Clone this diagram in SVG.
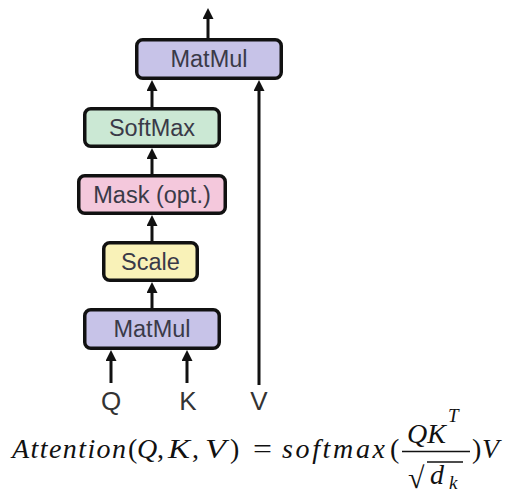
<svg xmlns="http://www.w3.org/2000/svg" width="507" height="494" viewBox="0 0 507 494">
<style>
.box{stroke:#111;stroke-width:3.5}
.lbl{font-family:"Liberation Sans",Arial,sans-serif;font-size:23.5px;fill:#3a3a48;text-anchor:middle}
.io{font-family:"Liberation Sans",Arial,sans-serif;font-size:26px;fill:#333;text-anchor:middle}
.conn line{stroke:#111;stroke-width:3;fill:none}
.m{font-family:"Liberation Serif","Times New Roman",serif;font-style:italic;font-size:28px;fill:#111}
.u{font-style:normal}
.s{font-size:19px}
</style>
<defs>
<marker id="ah" viewBox="0 0 11 11" refX="3" refY="5.5" markerWidth="11" markerHeight="11" markerUnits="userSpaceOnUse" orient="auto">
<path d="M0,0 L11,5.5 L0,11 z" fill="#111"/>
</marker>
</defs>
<rect width="507" height="494" fill="#fff"/>
<g class="conn">
<line x1="208" y1="38" x2="208" y2="16" marker-end="url(#ah)"/>
<line x1="152" y1="107" x2="152" y2="88" marker-end="url(#ah)"/>
<line x1="152" y1="174" x2="152" y2="156" marker-end="url(#ah)"/>
<line x1="152" y1="241" x2="152" y2="223" marker-end="url(#ah)"/>
<line x1="152" y1="308" x2="152" y2="290" marker-end="url(#ah)"/>
<line x1="111" y1="383" x2="111" y2="358" marker-end="url(#ah)"/>
<line x1="187" y1="383" x2="187" y2="358" marker-end="url(#ah)"/>
<line x1="259" y1="385" x2="259" y2="88" marker-end="url(#ah)"/>
</g>
<g id="matmul-top">
<rect class="box" x="136.75" y="39.75" width="144.5" height="38.5" rx="6" fill="#c7c3e8"/>
<text class="lbl" x="209" y="67">MatMul</text>
</g>
<g id="softmax">
<rect class="box" x="84.75" y="108.75" width="134.5" height="37.5" rx="6" fill="#cbe8d4"/>
<text class="lbl" x="152" y="135.5">SoftMax</text>
</g>
<g id="mask">
<rect class="box" x="78.75" y="175.75" width="146.5" height="37.5" rx="6" fill="#f4c8dc"/>
<text class="lbl" x="152" y="202.5">Mask (opt.)</text>
</g>
<g id="scale">
<rect class="box" x="103.75" y="242.75" width="93.5" height="37.5" rx="6" fill="#f9f2b8"/>
<text class="lbl" x="150.5" y="269.5">Scale</text>
</g>
<g id="matmul-bottom">
<rect class="box" x="84.75" y="309.75" width="134.5" height="38.5" rx="6" fill="#c7c3e8"/>
<text class="lbl" x="152" y="337">MatMul</text>
</g>
<g id="inputs">
<text class="io" x="111" y="410">Q</text>
<text class="io" x="188" y="410">K</text>
<text class="io" x="259" y="410">V</text>
</g>
<g id="formula">
<text class="m" x="12" y="458" textLength="114" lengthAdjust="spacing">Attention</text>
<text class="m u" x="128" y="458">(</text>
<text class="m" x="137" y="458">Q</text>
<text class="m u" x="157" y="458">,</text>
<text class="m" x="168" y="458" textLength="22" lengthAdjust="spacingAndGlyphs">K</text>
<text class="m u" x="192" y="458">,</text>
<text class="m" x="205" y="458" textLength="21" lengthAdjust="spacingAndGlyphs">V</text>
<text class="m u" x="230" y="458">)</text>
<text class="m u" x="253" y="458" textLength="19" lengthAdjust="spacingAndGlyphs">=</text>
<text class="m" x="282" y="458" textLength="103" lengthAdjust="spacing">softmax</text>
<text class="m u" x="390" y="458">(</text>
<line x1="402" y1="451.5" x2="470" y2="451.5" stroke="#111" stroke-width="1.4"/>
<text class="m" x="407" y="443" textLength="39" lengthAdjust="spacing">QK</text>
<text class="m s" x="448" y="422">T</text>
<text class="m u" x="408" y="488" style="font-size:30px">√</text>
<line x1="427" y1="462" x2="463" y2="462" stroke="#111" stroke-width="1.4"/>
<text class="m" x="430" y="484">d</text>
<text class="m s" x="449" y="489">k</text>
<text class="m u" x="472" y="458">)</text>
<text class="m" x="482" y="458">V</text>
</g>
</svg>
